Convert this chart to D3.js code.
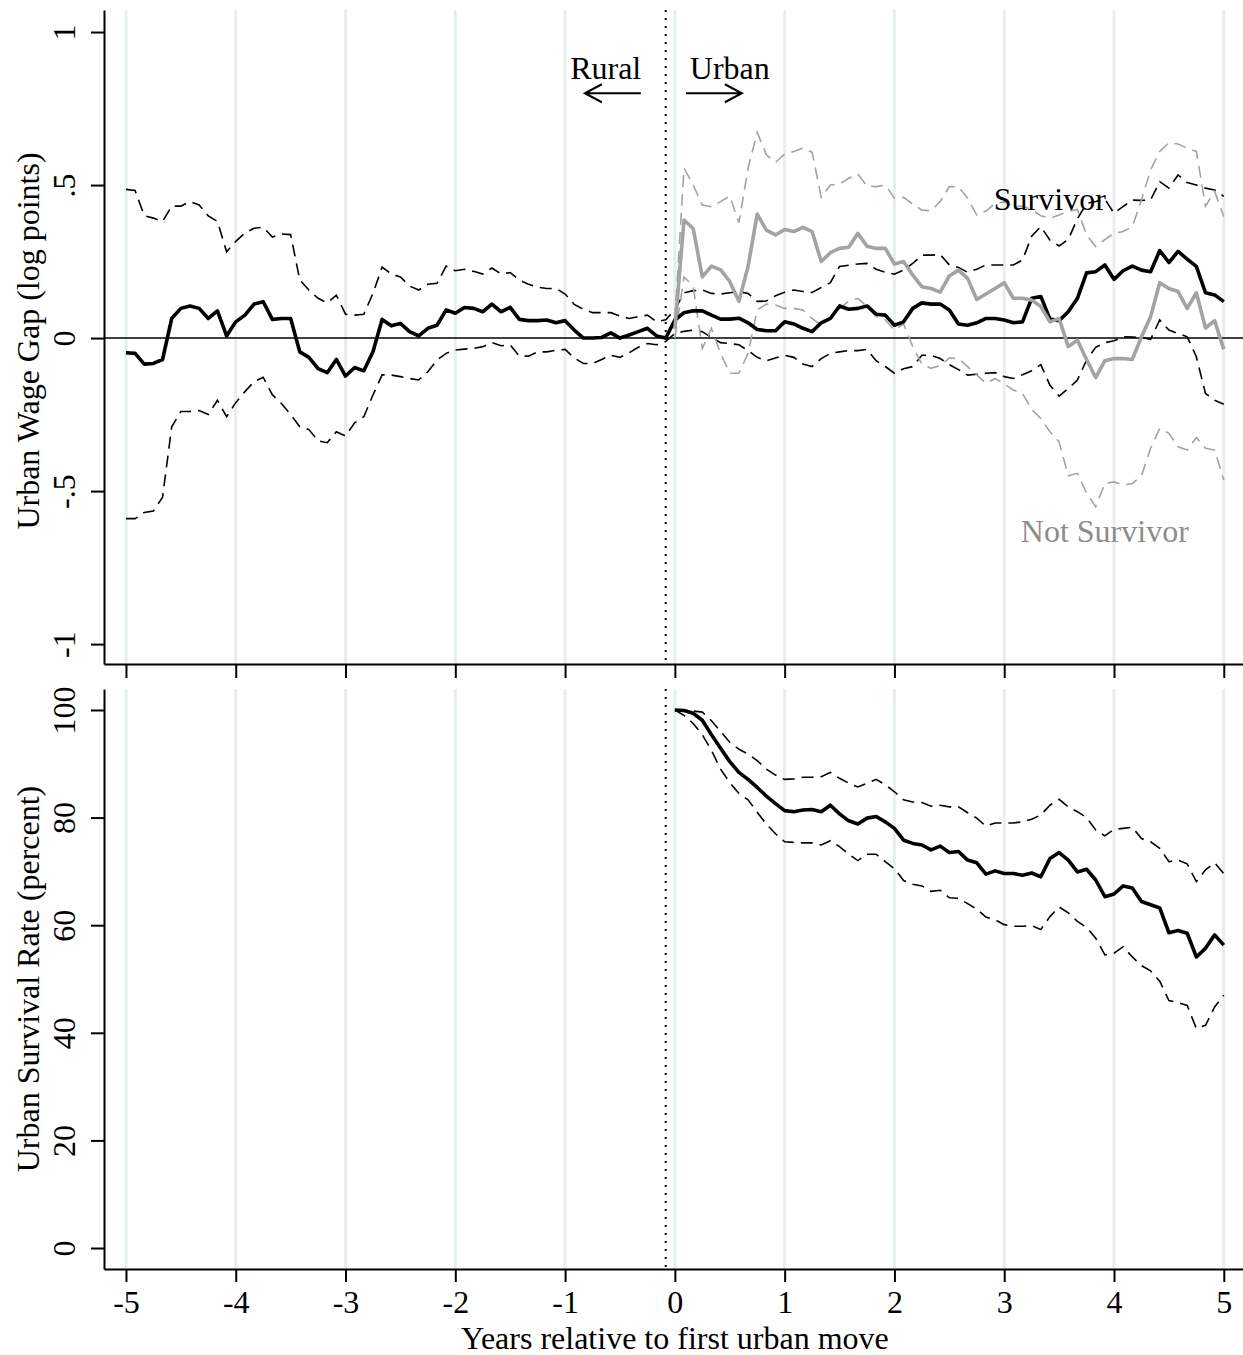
<!DOCTYPE html>
<html>
  <head>
    <meta charset="utf-8">
    <title>Urban wage gap and urban survival</title>
    <script src="https://cdn.jsdelivr.net/npm/d3@7"></script>
    <style>
      body { margin: 0; background: #fff; }
      svg { display: block; font-family: "Liberation Serif", "Times New Roman", serif; }
      .grid line { stroke: #e6eef0; stroke-width: 3; }
      .axis path, .axis line { stroke: #000; stroke-width: 2; }
      .axis text { font-size: 32px; fill: #000; font-family: "Liberation Serif", "Times New Roman", serif; }
      .title { font-size: 32px; fill: #000; }
      .zero { stroke: #000; stroke-width: 1.6; }
      .event { stroke: #000; stroke-width: 2; stroke-dasharray: 2 6; }
      .mean { fill: none; stroke-width: 3.6; stroke-linejoin: round; }
      .ci { fill: none; stroke-width: 1.6; stroke-dasharray: 12 7; }
      .arrow { fill: none; stroke: #000; stroke-width: 2; }
    </style>
  </head>
  <body>
    <svg id="chart" width="1243" height="1355"></svg>
    <script>
      // ticks
      var xTicks = [-5, -4, -3, -2, -1, 0, 1, 2, 3, 4, 5];
      var xTickLabels = ["-5", "-4", "-3", "-2", "-1", "0", "1", "2", "3", "4", "5"];
      var wageTicks = [-1, -0.5, 0, 0.5, 1];
      var wageTickLabels = ["-1", "-.5", "0", ".5", "1"];
      var survTicks = [0, 20, 40, 60, 80, 100];

      // event time in months (monthly grid, -5 to +5 years)
      var monthsAll = d3.range(-60, 61);
      var monthsPost = d3.range(0, 61);
      var eventMonth = -1;

      // urban wage gap, survivors (months -60..60)
      var wageSurv = [-0.048, -0.05, -0.085, -0.083, -0.07, 0.064, 0.097, 0.105, 0.097, 0.064,
        0.089, 0.007, 0.053, 0.075, 0.111, 0.119, 0.061, 0.064, 0.064, -0.045,
        -0.063, -0.1, -0.113, -0.07, -0.124, -0.096, -0.107, -0.045, 0.061, 0.04,
        0.048, 0.021, 0.007, 0.032, 0.042, 0.092, 0.081, 0.1, 0.097, 0.086,
        0.111, 0.086, 0.1, 0.061, 0.057, 0.057, 0.059, 0.05, 0.057, 0.026,
        0, 0, 0.002, 0.017, 0, 0.01, 0.021, 0.032, 0.007, 0,
        0.059, 0.083, 0.089, 0.089, 0.075, 0.062, 0.062, 0.065, 0.05, 0.028,
        0.024, 0.024, 0.053, 0.046, 0.032, 0.021, 0.05, 0.064, 0.105, 0.094,
        0.097, 0.105, 0.078, 0.075, 0.042, 0.053, 0.097, 0.115, 0.111, 0.111,
        0.092, 0.046, 0.042, 0.05, 0.064, 0.064, 0.059, 0.05, 0.053, 0.13,
        0.136, 0.062, 0.057, 0.086, 0.13, 0.213, 0.217, 0.239, 0.192, 0.22,
        0.235, 0.222, 0.217, 0.286, 0.247, 0.283, 0.258, 0.234, 0.148, 0.141,
        0.119];
      var wageSurvHi = [0.486, 0.482, 0.4, 0.392, 0.381, 0.431, 0.431, 0.446, 0.435, 0.399,
        0.381, 0.282, 0.316, 0.343, 0.359, 0.362, 0.33, 0.34, 0.338, 0.19,
        0.157, 0.13, 0.115, 0.14, 0.078, 0.075, 0.078, 0.146, 0.232, 0.209,
        0.2, 0.17, 0.157, 0.176, 0.179, 0.235, 0.22, 0.225, 0.218, 0.209,
        0.229, 0.209, 0.214, 0.19, 0.176, 0.166, 0.162, 0.162, 0.144, 0.11,
        0.094, 0.083, 0.083, 0.083, 0.072, 0.064, 0.07, 0.075, 0.053, 0.06,
        0.092, 0.148, 0.155, 0.157, 0.146, 0.144, 0.148, 0.152, 0.146, 0.12,
        0.121, 0.138, 0.15, 0.157, 0.152, 0.149, 0.165, 0.181, 0.234, 0.238,
        0.242, 0.244, 0.225, 0.215, 0.209, 0.222, 0.244, 0.271, 0.271, 0.273,
        0.239, 0.231, 0.215, 0.225, 0.239, 0.239, 0.239, 0.239, 0.255, 0.333,
        0.364, 0.32, 0.301, 0.322, 0.39, 0.44, 0.446, 0.454, 0.408, 0.43,
        0.451, 0.45, 0.451, 0.511, 0.49, 0.533, 0.508, 0.5, 0.49, 0.484,
        0.463];
      var wageSurvLo = [-0.59, -0.59, -0.57, -0.565, -0.52, -0.29, -0.24, -0.24, -0.237, -0.25,
        -0.203, -0.257, -0.211, -0.175, -0.143, -0.128, -0.185, -0.214, -0.25, -0.29,
        -0.299, -0.336, -0.342, -0.306, -0.32, -0.277, -0.257, -0.186, -0.12, -0.121,
        -0.126, -0.132, -0.137, -0.11, -0.072, -0.05, -0.039, -0.036, -0.034, -0.028,
        -0.015, -0.025, -0.022, -0.059, -0.059, -0.045, -0.045, -0.04, -0.037, -0.065,
        -0.083, -0.083, -0.07, -0.056, -0.063, -0.048, -0.03, -0.018, -0.022, -0.011,
        0.015, 0.022, 0.026, 0.021, 0.002, -0.015, -0.018, -0.022, -0.041, -0.063,
        -0.074, -0.065, -0.056, -0.063, -0.085, -0.093, -0.067, -0.05, -0.045, -0.041,
        -0.041, -0.037, -0.074, -0.093, -0.115, -0.1, -0.093, -0.056, -0.056, -0.067,
        -0.087, -0.103, -0.121, -0.118, -0.115, -0.113, -0.126, -0.132, -0.12, -0.107,
        -0.087, -0.154, -0.19, -0.165, -0.137, -0.072, -0.03, -0.015, -0.009, 0.004,
        0.003, 0.002, -0.004, 0.059, 0.026, 0.015, 0.004, -0.061, -0.181, -0.203,
        -0.216];

      // urban wage gap, not survivors (months 0..60)
      var wageNot = [0.03, 0.386, 0.358, 0.2, 0.235, 0.223, 0.185, 0.12, 0.234, 0.405,
        0.353, 0.337, 0.355, 0.348, 0.362, 0.348, 0.25, 0.279, 0.293, 0.297,
        0.342, 0.3, 0.293, 0.293, 0.242, 0.25, 0.206, 0.168, 0.162, 0.15,
        0.203, 0.222, 0.195, 0.126, 0.144, 0.162, 0.181, 0.13, 0.13, 0.124,
        0.103, 0.053, 0.064, -0.028, -0.007, -0.07, -0.129, -0.074, -0.067, -0.067,
        -0.07, 0.004, 0.07, 0.181, 0.162, 0.152, 0.097, 0.148, 0.033, 0.057,
        -0.037];
      var wageNotHi = [0.06, 0.555, 0.5, 0.435, 0.429, 0.446, 0.464, 0.377, 0.555, 0.672,
        0.599, 0.574, 0.601, 0.61, 0.621, 0.607, 0.46, 0.5, 0.503, 0.522,
        0.536, 0.497, 0.495, 0.5, 0.457, 0.46, 0.438, 0.418, 0.416, 0.446,
        0.495, 0.495, 0.457, 0.402, 0.415, 0.44, 0.445, 0.43, 0.431, 0.42,
        0.4, 0.391, 0.402, 0.414, 0.42, 0.337, 0.299, 0.322, 0.342, 0.348,
        0.364, 0.451, 0.549, 0.61, 0.638, 0.634, 0.621, 0.61, 0.431, 0.479,
        0.397];
      var wageNotLo = [0, 0.2, 0.169, -0.034, 0.032, -0.05, -0.115, -0.115, -0.05, 0.092,
        0.111, 0.108, 0.097, 0.097, 0.092, 0.064, 0.042, 0.067, 0.097, 0.12,
        0.13, 0.103, 0.07, 0.059, 0.026, 0.046, -0.028, -0.085, -0.099, -0.09,
        -0.065, -0.067, -0.093, -0.12, -0.148, -0.132, -0.15, -0.17, -0.181, -0.233,
        -0.263, -0.306, -0.339, -0.45, -0.442, -0.507, -0.551, -0.475, -0.47, -0.48,
        -0.475, -0.45, -0.36, -0.295, -0.311, -0.355, -0.366, -0.325, -0.36, -0.366,
        -0.464];

      // urban survival rate, percent (months 0..60)
      var survRate = [100, 99.9, 99.4, 98.1, 95.4, 92.9, 90.4, 88.4, 87.1, 85.6,
        84.0, 82.6, 81.3, 81.1, 81.4, 81.5, 81.1, 82.3, 80.7, 79.4,
        78.8, 79.9, 80.2, 79.2, 78.0, 75.8, 75.2, 74.9, 74.0, 74.7,
        73.5, 73.7, 72.1, 71.6, 69.5, 70.1, 69.6, 69.6, 69.3, 69.7,
        69.0, 72.4, 73.5, 72.1, 69.9, 70.4, 68.4, 65.3, 65.8, 67.3,
        66.9, 64.4, 63.8, 63.2, 58.6, 59.0, 58.5, 54.1, 55.7, 58.2,
        56.3];
      var survRateHi = [100, 100, 99.8, 99.6, 98.0, 96.0, 94.0, 92.7, 91.8, 90.6,
        89.0, 87.9, 87.1, 87.2, 87.5, 87.5, 87.6, 88.4, 87.3, 86.4,
        85.7, 86.4, 87.1, 86.1, 84.8, 83.3, 82.9, 82.8, 82.1, 82.3,
        82.0, 82.0, 80.9, 79.9, 78.4, 79.0, 79.0, 79.0, 79.2, 79.7,
        80.5, 82.3, 83.4, 82.0, 81.1, 80.0, 77.7, 76.6, 77.8, 78.0,
        78.2, 76.1, 75.5, 74.3, 71.8, 72.1, 71.4, 68.1, 70.3, 71.6,
        69.6];
      var survRateLo = [100, 99.0, 97.5, 95.4, 92.5, 89.0, 86.5, 84.5, 83.3, 81.0,
        78.8, 77.0, 75.5, 75.4, 75.3, 75.3, 74.9, 75.7, 74.6, 73.2,
        72.0, 73.2, 73.2, 71.8, 70.5, 68.3, 67.6, 67.3, 66.3, 66.5,
        65.1, 65.0, 64.0, 63.0, 61.5, 61.0, 60.1, 59.8, 59.8, 59.9,
        59.2, 61.6, 63.4, 62.3, 60.7, 59.6, 57.6, 54.5, 54.8, 56.0,
        54.1, 52.5, 51.5, 49.6, 46.0, 45.6, 45.1, 40.8, 41.4, 44.8,
        47.0];

      // page elements
      var svg = d3.select("#chart");
      var left = 104, right = 1243;
      var top1 = 10, bottom1 = 664, top2 = 689, bottom2 = 1269;

      var x = d3.scaleLinear().domain([-5.2, 5.175]).range([left, right]);
      var yWage = d3.scaleLinear().domain([-1.065, 1.072]).range([bottom1, top1]);
      var ySurv = d3.scaleLinear().domain([-3.9, 103.9]).range([bottom2, top2]);

      function years(m) { return m / 12; }

      // grid lines
      [[top1, bottom1], [top2, bottom2]].forEach(function(p) {
        svg.append("g").attr("class", "grid")
          .selectAll("line").data(xTicks)
          .enter().append("line")
            .attr("x1", function(d) { return x(d); })
            .attr("x2", function(d) { return x(d); })
            .attr("y1", p[0]).attr("y2", p[1]);
      });

      // zero line in wage panel
      svg.append("line").attr("class", "zero")
        .attr("x1", left).attr("x2", right)
        .attr("y1", yWage(0)).attr("y2", yWage(0));

      // first urban move
      [[top1, bottom1], [top2, bottom2]].forEach(function(p) {
        svg.append("line").attr("class", "event")
          .attr("x1", x(years(eventMonth))).attr("x2", x(years(eventMonth)))
          .attr("y1", p[0]).attr("y2", p[1]);
      });

      // axes
      function rotateY(g) {
        g.selectAll(".tick text")
          .attr("transform", "rotate(-90)")
          .attr("x", 0)
          .attr("y", -29)
          .attr("dy", null)
          .attr("text-anchor", "middle");
      }
      svg.append("g").attr("class", "axis")
        .attr("transform", "translate(" + left + ",0)")
        .call(d3.axisLeft(yWage).tickValues(wageTicks)
          .tickFormat(function(d, i) { return wageTickLabels[i]; })
          .tickSize(13).tickSizeOuter(0))
        .call(rotateY);
      svg.append("g").attr("class", "axis")
        .attr("transform", "translate(0," + bottom1 + ")")
        .call(d3.axisBottom(x).tickValues(xTicks).tickFormat("")
          .tickSize(14).tickSizeOuter(0));
      svg.append("g").attr("class", "axis")
        .attr("transform", "translate(" + left + ",0)")
        .call(d3.axisLeft(ySurv).tickValues(survTicks)
          .tickFormat(function(d) { return String(d); })
          .tickSize(13).tickSizeOuter(0))
        .call(rotateY);
      svg.append("g").attr("class", "axis")
        .attr("transform", "translate(0," + bottom2 + ")")
        .call(d3.axisBottom(x).tickValues(xTicks)
          .tickFormat(function(d, i) { return xTickLabels[i]; })
          .tickSize(13).tickSizeOuter(0).tickPadding(8));

      // axis titles
      svg.append("text").attr("class", "title")
        .attr("transform", "translate(39," + ((top1 + bottom1) / 2 + 4) + ") rotate(-90)")
        .attr("text-anchor", "middle")
        .text("Urban Wage Gap (log points)");
      svg.append("text").attr("class", "title")
        .attr("transform", "translate(39," + ((top2 + bottom2) / 2) + ") rotate(-90)")
        .attr("text-anchor", "middle")
        .text("Urban Survival Rate (percent)");
      svg.append("text").attr("class", "title")
        .attr("x", x(0)).attr("y", 1349)
        .attr("text-anchor", "middle")
        .text("Years relative to first urban move");

      // series
      function lineFor(months, yScale) {
        return d3.line()
          .x(function(d, i) { return x(years(months[i])); })
          .y(function(d) { return yScale(d); });
      }
      var wageAll = lineFor(monthsAll, yWage);
      var wagePost = lineFor(monthsPost, yWage);
      var survPost = lineFor(monthsPost, ySurv);
      var plots = svg.append("g");

      plots.append("path").attr("class", "ci").attr("stroke", "#000").attr("d", wageAll(wageSurvHi));
      plots.append("path").attr("class", "ci").attr("stroke", "#000").attr("d", wageAll(wageSurvLo));
      plots.append("path").attr("class", "ci").attr("stroke", "#a3a3a3").attr("d", wagePost(wageNotHi));
      plots.append("path").attr("class", "ci").attr("stroke", "#a3a3a3").attr("d", wagePost(wageNotLo));
      plots.append("path").attr("class", "mean").attr("stroke", "#000").attr("d", wageAll(wageSurv));
      plots.append("path").attr("class", "mean").attr("stroke", "#a3a3a3").attr("d", wagePost(wageNot));

      plots.append("path").attr("class", "ci").attr("stroke", "#000").attr("d", survPost(survRateHi));
      plots.append("path").attr("class", "ci").attr("stroke", "#000").attr("d", survPost(survRateLo));
      plots.append("path").attr("class", "mean").attr("stroke", "#000").attr("d", survPost(survRate));

      // annotations
      function arrow(x1, x2, yv) {
        var px1 = x(x1), px2 = x(x2), py = yWage(yv);
        var dir = px2 > px1 ? -1 : 1;
        svg.append("path").attr("class", "arrow")
          .attr("d", "M" + px1 + "," + py + "L" + px2 + "," + py +
            "M" + (px2 + dir * 17) + "," + (py - 9) + "L" + px2 + "," + py +
            "L" + (px2 + dir * 17) + "," + (py + 9));
      }
      arrow(-0.31, -0.82, 0.8);
      arrow(0.1, 0.61, 0.8);
      svg.append("text").attr("class", "title").attr("font-size", 31)
        .attr("x", x(-0.63)).attr("y", yWage(0.845)).attr("text-anchor", "middle").text("Rural");
      svg.append("text").attr("class", "title").attr("font-size", 31)
        .attr("x", x(0.5)).attr("y", yWage(0.845)).attr("text-anchor", "middle").text("Urban");
      svg.append("text").attr("class", "title")
        .attr("x", x(3.415)).attr("y", yWage(0.418)).attr("text-anchor", "middle").text("Survivor");
      svg.append("text").attr("class", "title")
        .style("fill", "#8c8c8c")
        .attr("x", x(3.916)).attr("y", yWage(-0.666)).attr("text-anchor", "middle").text("Not Survivor");
    </script>
  </body>
</html>
